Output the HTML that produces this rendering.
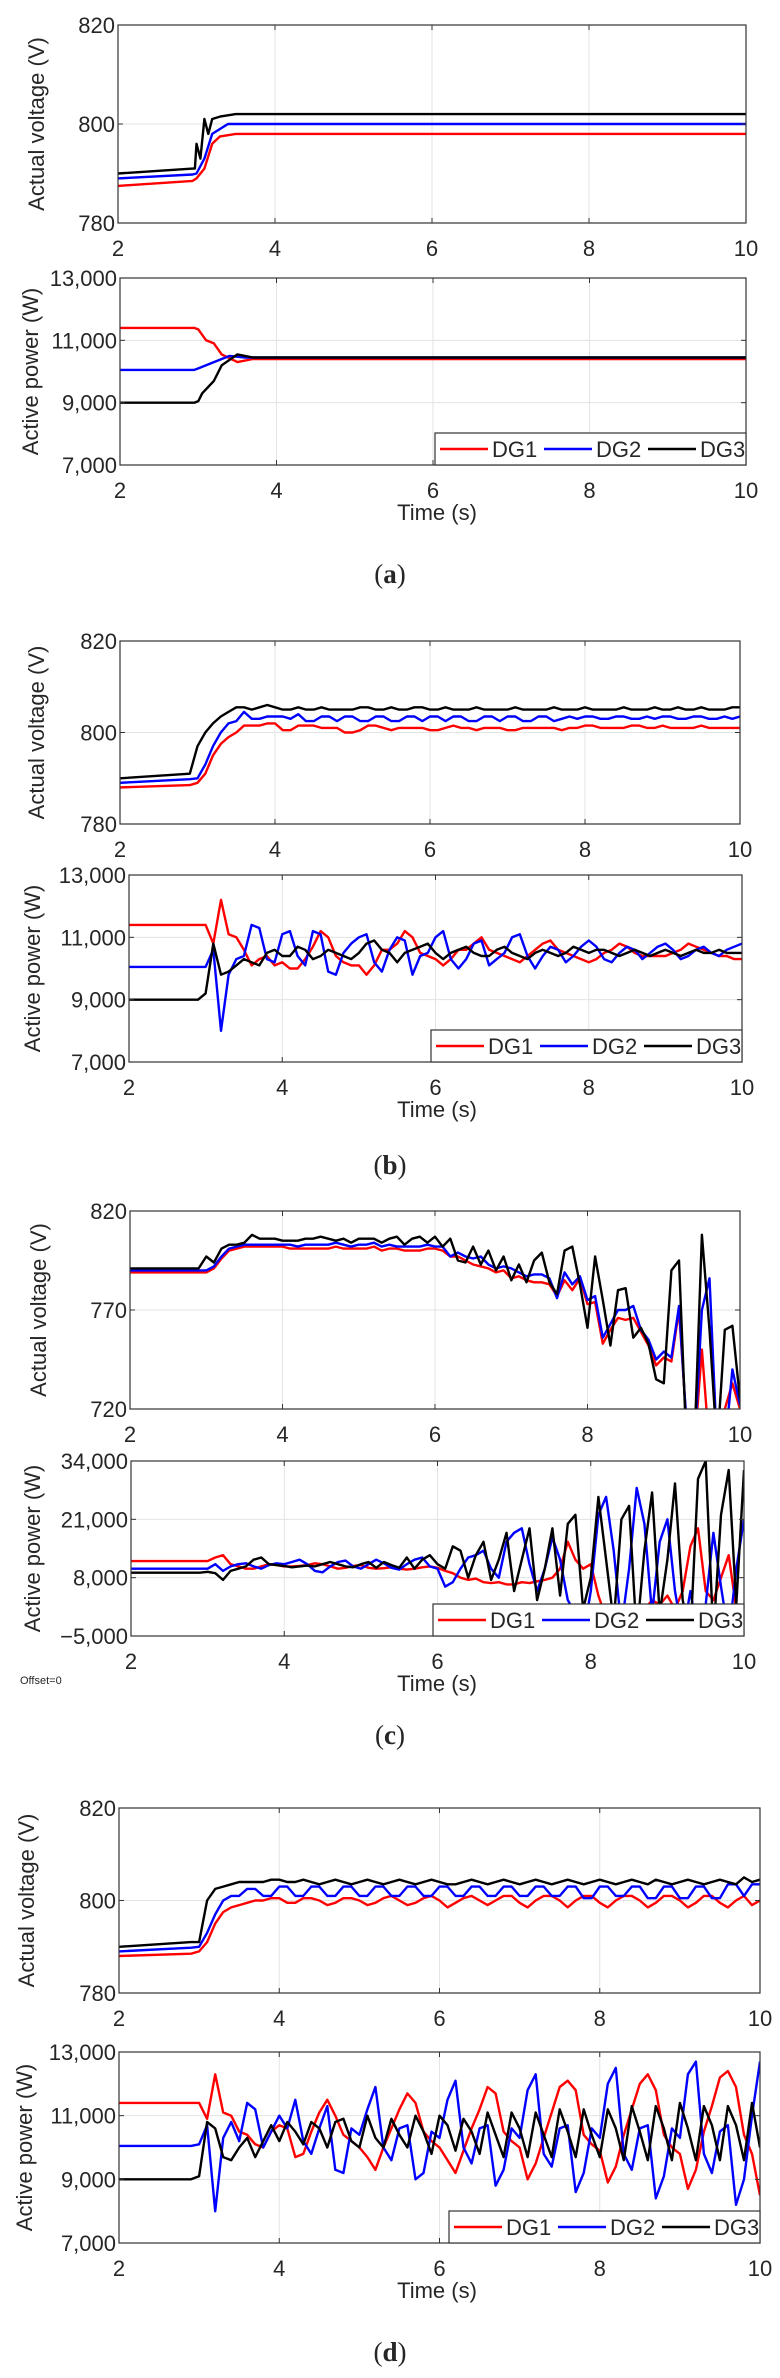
<!DOCTYPE html>
<html><head><meta charset="utf-8"><style>
html,body{margin:0;padding:0;background:#fff;}
svg{display:block;}
text{font-family:"Liberation Sans",Arial,sans-serif;fill:#262626;}
</style></head><body>
<svg id="fig" width="780" height="2378" viewBox="0 0 780 2378" xmlns="http://www.w3.org/2000/svg"></svg>
<script>
// shared time grid for oscillating series
const T = [2,2.9,
3.0,3.1,3.2,3.3,3.4,3.5,3.6,3.7,3.8,3.9,
4.0,4.1,4.2,4.3,4.4,4.5,4.6,4.7,4.8,4.9,
5.0,5.1,5.2,5.3,5.4,5.5,5.6,5.7,5.8,5.9,
6.0,6.1,6.2,6.3,6.4,6.5,6.6,6.7,6.8,6.9,
7.0,7.1,7.2,7.3,7.4,7.5,7.6,7.7,7.8,7.9,
8.0,8.1,8.2,8.3,8.4,8.5,8.6,8.7,8.8,8.9,
9.0,9.1,9.2,9.3,9.4,9.5,9.6,9.7,9.8,9.9,
10.0];
const xTicks = [2,4,6,8,10];
const xTickLabels = ["2","4","6","8","10"];
const vTicks = [780,800,820];
const vTickLabels = ["780","800","820"];
const pTicks = [7000,9000,11000,13000];
const pTickLabels = ["7,000","9,000","11,000","13,000"];
const vTicksC = [720,770,820];
const vTickLabelsC = ["720","770","820"];
const pTicksC = [-5000,8000,21000,34000];
const pTickLabelsC = ["\u22125,000","8,000","21,000","34,000"];
const seriesNames = ["DG1","DG2","DG3"];

// panel (a)
const aT1 = [2,2.95,3.0,3.1,3.2,3.3,3.5,10];
const aV1 = [787.5,788.5,789,791,796,797.5,798,798];
const aT2 = [2,2.95,3.0,3.1,3.2,3.4,10];
const aV2 = [789,789.8,790,793,798,800,800];
const aT3 = [2,2.95,2.98,3.0,3.05,3.1,3.15,3.2,3.3,3.5,10];
const aV3 = [790,791,791,796,793,801,798,801,801.5,802,802];
const aPT1 = [2,2.95,3.0,3.1,3.2,3.3,3.5,3.7,10];
const aP1 = [11400,11400,11350,11000,10900,10550,10300,10400,10400];
const aPT2 = [2,2.95,3.0,3.2,3.4,3.6,10];
const aP2 = [10050,10050,10100,10300,10500,10450,10450];
const aPT3 = [2,2.95,3.0,3.05,3.2,3.3,3.5,3.7,10];
const aP3 = [9000,9000,9050,9300,9700,10200,10550,10450,10450];

// panel (b)
const bV1 = [788,788.5,
789,791,795,797.5,799,800,801.5,801.5,801.5,802,
802,800.5,800.5,801.5,801.5,801.5,801,801,801,800,
800,800.5,801.5,801.5,801,800.5,801,801,801,801,
800.5,800.5,801,801.5,801,801,800.5,801,801,801,
800.5,800.5,801,801,801,801,801,800.5,801,801,
801.5,801.5,801,801,801,801,801.5,801.5,801,801,
801.5,801,801,801,801,801.5,801,801,801,801,
801];
const bV2 = [789,789.8,
790,793,797,800,802,802.5,804.5,803,803,803.5,
803.5,803.5,803,804,802.5,802.5,803.5,803.5,802.5,803.5,
803.5,802.5,802.5,803.5,803.5,802.5,802.5,803.5,803.5,802.5,
803.5,803.5,802.5,803.5,803.5,802.5,802.5,803.5,803.5,802.5,
803.5,803.5,802.5,802.5,803.5,803.5,802.5,803,803.5,803,
803.5,803.5,803,803,803.5,803.5,803,803,803.5,803,
803.5,803.5,803,803,803.5,803.5,803,803,803.5,803,
803.5];
const bV3 = [790,791,
797,800,802,803.5,804.5,805.5,805.5,805,805.5,806,
805.5,805,805,805.5,805,805,805.5,805,805,805,
805,805.5,805.5,805,805,805.5,805,805,805.5,805.5,
805,805,805.5,805,805,805,805.5,805,805,805,
805,805.5,805,805,805,805,805.5,805,805,805,
805.5,805,805,805,805,805.5,805,805,805,805.5,
805,805,805.5,805,805,805.5,805,805,805,805.5,
805.5];
const bP1 = [11400,11400,
11400,10800,12200,11100,11000,10600,10100,10300,10400,10100,
10200,10000,10000,10300,10700,11200,11000,10400,10200,10100,
10100,9800,10100,10600,10600,10800,11200,11000,10500,10400,
10300,10100,10300,10600,10600,10800,11000,10600,10500,10400,
10300,10200,10400,10600,10800,10900,10600,10500,10400,10300,
10200,10300,10500,10600,10800,10700,10500,10400,10400,10400,
10400,10500,10600,10800,10700,10600,10500,10400,10400,10300,
10300];
const bP2 = [10050,10050,
10050,10600,8000,9800,10300,10400,11400,11300,10300,10200,
11100,11200,10400,10100,11200,11100,9900,9800,10500,10800,
11000,11100,10200,9900,10600,11000,10900,9800,10400,10500,
11000,11200,10300,10000,10300,10800,10900,10100,10300,10500,
11000,11100,10400,10000,10400,10700,10600,10200,10400,10700,
10900,10700,10300,10200,10500,10700,10600,10300,10500,10700,
10800,10600,10300,10400,10600,10700,10500,10400,10600,10700,
10800];
const bP3 = [9000,9000,
9200,10800,9800,9900,10100,10300,10200,10100,10500,10600,
10400,10400,10700,10600,10300,10400,10600,10500,10400,10300,
10500,10800,10900,10600,10500,10200,10500,10600,10700,10800,
10500,10300,10500,10600,10700,10500,10400,10400,10600,10700,
10500,10400,10300,10500,10600,10500,10400,10500,10700,10600,
10500,10600,10600,10500,10400,10500,10600,10500,10400,10500,
10600,10500,10400,10500,10600,10500,10500,10600,10500,10500,
10500];

// panel (c)
const cV1 = [789,789,
789,791,796,800,801,802,802,802,802,802,
802,801,801,801,801,801,801,802,801,801,
801,801,802,800,801,801,800,800,800,801,
801,800,797,797,795,793,792,791,789,790,
786,787,785,784,784,783,777,785,780,786,
773,774,753,760,766,765,766,759,752,742,
746,744,770,712,700,750,700,700,720,733,
720];
const cV2 = [790,790,
790,792,797,801,802,803,803,803,803,803,
803,803,802,803,803,803,803,804,803,802,
803,803,804,802,803,802,802,802,802,803,
802,802,797,799,797,796,797,793,791,792,
791,789,787,788,788,786,776,789,783,787,
775,777,756,763,770,770,772,760,755,745,
749,746,772,712,700,770,786,700,700,740,
722];
const cV3 = [791,791,
797,794,801,803,803,804,808,806,806,806,
805,805,805,806,806,807,806,805,806,804,
806,806,806,804,806,807,803,806,807,804,
807,802,806,795,794,802,793,800,790,797,
785,793,784,795,799,784,778,800,802,783,
761,797,775,752,780,781,756,761,753,735,
733,790,795,700,700,808,760,700,760,762,
725];
const cP1 = [11700,11700,
11700,12500,13000,11000,10500,10000,10000,10500,11000,10800,
10500,10500,10600,10800,11200,11000,10500,10000,10200,10600,
10800,10200,10000,10100,10300,10000,9800,10000,10300,10500,
10200,9500,9000,8000,7500,7800,7000,6800,7000,6500,
6500,7000,6800,7200,7500,8000,10000,16000,12000,10000,
11000,4000,-1000,1000,0,-2000,0,1000,3000,2000,
4000,1000,5000,15000,19000,5000,3000,8000,13000,1000,
0];
const cP2 = [10000,10000,
10000,11000,9500,10500,11000,11200,10500,10000,10800,11200,
11000,11500,12000,11000,9500,9200,10500,11500,11800,10500,
10000,11000,12000,11200,10200,9800,11000,12000,12500,10500,
10000,6000,7000,10000,12500,13000,14000,10000,8000,16000,
18000,19000,11000,5000,10000,17000,12000,3000,0,-5000,
5000,22000,26000,14000,-3000,10000,28000,20000,0,16000,
21000,5000,-5000,5000,-5000,2000,18000,6000,-5000,10000,
21000];
const cP3 = [9100,9100,
9300,9000,7500,9500,10000,10500,12000,12500,11000,10800,
10600,10300,10500,10700,10500,11000,11500,11000,10500,10300,
11000,11500,10200,11500,10800,10200,12500,10000,12000,13000,
11000,10000,15000,14000,8000,13000,16000,7500,12000,18000,
5000,12000,19000,3000,10000,19000,4000,20000,22000,1000,
8000,26000,12000,-2000,21000,24000,-5000,14000,27000,0,
12000,29000,3000,-5000,30000,34000,-5000,22000,32000,2000,
32000];

// panel (d)
const dV1 = [788,788.5,
789,791,795,797.5,798.5,799,799.5,800,800,800.5,
800.5,799.5,799.5,800.5,800.5,800,799,799.5,800.5,800.5,
800,799,799.5,800.5,801,800,799,799.5,800.5,801,
800,798.5,799.5,800.5,801,800,799,800,801,801,
799.5,798.5,800,801,801,800,798.5,800,801,801,
799.5,798.5,800,801,801,800,798.5,799.5,801,801,
800,798.5,799.5,801,801,799.5,798.5,800,801,799,
800];
const dV2 = [789,789.8,
790,793,797,800,801,801,802.5,802.5,801,801,
803,803,801,801,803,803,801,801,803,803,
801,801,803,803,801,801,803,803,801,801,
803,803,801,801,803,803,801,801,803,803,
801,801,803,803,801,801,803,803,800.5,800.5,
803,803,801,801,803,803,800.5,800.5,803,803,
800.5,800.5,803,803,800.5,800.5,803.5,803.5,801,803.5,
803.5];
const dV3 = [790,791,
791,800,802.5,803,803.5,804,804,804,804,804.5,
804.5,804,804,804.5,804,803.5,804,804.5,804,803.5,
804,804.5,804,803.5,804,804.5,804,803.5,804,804.5,
804,803.5,803.5,804,804.5,804,803.5,804,804.5,804,
803.5,804,804.5,804,803.5,804,804.5,804,803.5,804,
804.5,804,803.5,804,804.5,804,803.5,804.5,804,803.5,
804,804.5,804,803.5,804,804.5,804,803.5,805,804,
804.5];
const dP1 = [11400,11400,
11400,10900,12300,11100,11000,10500,10400,10100,10000,10500,
10700,10600,9700,9800,10500,11100,11500,11000,10400,10200,
10000,9700,9300,10000,10600,11200,11700,11400,10500,10200,
10000,9600,9200,9900,10600,11200,11900,11700,10500,10200,
10000,9000,9500,10300,11100,11900,12100,11800,10400,10100,
9900,8900,9400,10400,11200,12000,12300,11800,10400,10000,
9800,8700,9300,10500,11300,12200,12400,11900,10400,9800,
8500];
const dP2 = [10050,10050,
10100,10700,8000,10300,10800,10200,11400,11200,10000,10500,
11000,10600,11500,10200,9800,10600,11300,9300,9200,10600,
10400,11200,11900,10000,9600,10600,10700,9000,9200,10500,
10300,11500,12100,10000,9500,10600,10700,8800,9300,10600,
10300,11800,12300,9800,9400,10600,10700,8600,9200,10600,
10300,12000,12500,9800,9300,10600,10700,8400,9100,10600,
10300,12300,12700,9800,9200,10500,10700,8200,9000,11000,
12700];
const dP3 = [9000,9000,
9100,10800,10600,9700,9600,10000,10300,9700,10200,10700,
10200,10800,10500,10100,10800,10600,10000,10800,10900,10200,
10000,11000,10300,10000,10900,10400,10000,11000,10500,9800,
11000,10700,9900,10900,10500,9800,11100,10400,9700,11100,
10600,9700,11100,10400,9700,11200,10500,9700,11200,10400,
9700,11200,10600,9600,11300,10500,9600,11300,10600,9600,
11400,10600,9600,11300,10700,9600,11300,10700,9600,11400,
10000];

const COLORS = ["#ff0000","#0000ff","#000000"];
const NS = "http://www.w3.org/2000/svg";
const svg = document.getElementById('fig');
function mk(tag, attrs, parent){
  const e = document.createElementNS(NS, tag);
  for (const k in attrs) e.setAttribute(k, attrs[k]);
  (parent||svg).appendChild(e);
  return e;
}
let clipId = 0;
function drawAxes(cfg){
  const g = mk('g', {});
  
  
  const xs = v => cfg.x0 + (v - 2) / 8 * (cfg.x1 - cfg.x0);
  const ys = v => cfg.y1 - (v - cfg.ymin) / (cfg.ymax - cfg.ymin) * (cfg.y1 - cfg.y0);
  mk('rect', {x:cfg.x0, y:cfg.y0, width:cfg.x1-cfg.x0, height:cfg.y1-cfg.y0, fill:'#fff'}, g);
  // grid
  xTicks.forEach(t => {
    if (t===2||t===10) return;
    const l = mk('line', {x1:xs(t), x2:xs(t), y1:cfg.y0, y2:cfg.y1, stroke:'#e3e3e3', 'stroke-width':1}, g);
    
    
  });
  cfg.yt.forEach(t => {
    if (t===cfg.ymin||t===cfg.ymax) return;
    const l = mk('line', {x1:cfg.x0, x2:cfg.x1, y1:ys(t), y2:ys(t), stroke:'#e3e3e3', 'stroke-width':1}, g);
    
    
  });
  // series
  const cid = 'clip' + (clipId++);
  const cp = mk('clipPath', {id:cid}, g);
  mk('rect', {x:cfg.x0, y:cfg.y0, width:cfg.x1-cfg.x0, height:cfg.y1-cfg.y0}, cp);
  const sg = mk('g', {'clip-path':'url(#'+cid+')'}, g);
  cfg.series.forEach((s, i) => {
    let d = '';
    s.t.forEach((t, j) => { d += (j ? 'L' : 'M') + xs(t).toFixed(1) + ',' + ys(s.v[j]).toFixed(1); });
    const p = mk('path', {d:d, fill:'none', stroke:COLORS[i], 'stroke-width':2.4, 'stroke-linejoin':'round'}, sg);
    
    
  });
  // box
  mk('rect', {x:cfg.x0, y:cfg.y0, width:cfg.x1-cfg.x0, height:cfg.y1-cfg.y0, fill:'none', stroke:'#333', 'stroke-width':1.2}, g);
  // ticks
  xTicks.forEach((t, i) => {
    mk('line', {x1:xs(t), x2:xs(t), y1:cfg.y1, y2:cfg.y1-5, stroke:'#333'}, g);
    mk('line', {x1:xs(t), x2:xs(t), y1:cfg.y0, y2:cfg.y0+5, stroke:'#333'}, g);
    const tx = mk('text', {x:xs(t), y:cfg.y1+33, 'font-size':22, 'text-anchor':'middle'}, g);
    tx.textContent = xTickLabels[i];
    
    
  });
  cfg.yt.forEach((t, i) => {
    mk('line', {x1:cfg.x0, x2:cfg.x0+5, y1:ys(t), y2:ys(t), stroke:'#333'}, g);
    mk('line', {x1:cfg.x1, x2:cfg.x1-5, y1:ys(t), y2:ys(t), stroke:'#333'}, g);
    const tx = mk('text', {x:cfg.x0-3, y:ys(t)+8, 'font-size':22, 'text-anchor':'end'}, g);
    tx.textContent = cfg.ytl[i];
    
    
  });
  const cy = (cfg.y0 + cfg.y1) / 2;
  const yl = mk('text', {x:cfg.ylx, y:cy, 'font-size':22, 'text-anchor':'middle', transform:'rotate(-90 '+cfg.ylx+' '+cy+')'}, g);
  yl.textContent = cfg.ylabel;
  
  
  if (cfg.legend){
    const lg = mk('g', {}, g);
    
    
    const lx = cfg.x1 - 311, ly = cfg.y1 - 32;
    mk('rect', {x:lx, y:ly, width:311, height:32, fill:'#fff', stroke:'#333', 'stroke-width':1.2}, lg);
    seriesNames.forEach((n, i) => {
      const bx = lx + 5 + i * 104;
      const le = mk('g', {}, lg);
      
      
      mk('line', {x1:bx, x2:bx+48, y1:ly+16, y2:ly+16, stroke:COLORS[i], 'stroke-width':2.6}, le);
      const tx = mk('text', {x:bx+52, y:ly+24, 'font-size':22}, le);
      tx.textContent = n;
    });
  }
  if (cfg.xlabel){
    const xl = mk('text', {x:437, y:cfg.y1+55, 'font-size':22, 'text-anchor':'middle'}, g);
    xl.textContent = 'Time (s)';
    
    
  }
}
function caption(letter, y){
  const t = mk('text', {x:390, y:y, 'font-size':27, 'text-anchor':'middle', style:'font-family:"Liberation Serif",serif'});
  
  
  t.innerHTML = '(<tspan font-weight="bold">' + letter + '</tspan>)';
}
const S = (a,b,c) => [{t:a[0],v:a[1]},{t:b[0],v:b[1]},{t:c[0],v:c[1]}];

// (a)
drawAxes({name:'panel-a-voltage', x0:118, x1:746, y0:25, y1:223, ymin:780, ymax:820, yt:vTicks, ytl:vTickLabels, ylabel:'Actual voltage (V)', ylx:44,
  series:S([aT1,aV1],[aT2,aV2],[aT3,aV3])});
drawAxes({name:'panel-a-power', x0:120, x1:746, y0:278, y1:465, ymin:7000, ymax:13000, yt:pTicks, ytl:pTickLabels, ylabel:'Active power (W)', ylx:38, legend:true, xlabel:true,
  series:S([aPT1,aP1],[aPT2,aP2],[aPT3,aP3])});
caption('a', 583);
// (b)
drawAxes({name:'panel-b-voltage', x0:120, x1:740, y0:641, y1:824, ymin:780, ymax:820, yt:vTicks, ytl:vTickLabels, ylabel:'Actual voltage (V)', ylx:44,
  series:S([T,bV1],[T,bV2],[T,bV3])});
drawAxes({name:'panel-b-power', x0:129, x1:742, y0:875, y1:1062, ymin:7000, ymax:13000, yt:pTicks, ytl:pTickLabels, ylabel:'Active power (W)', ylx:40, legend:true, xlabel:true,
  series:S([T,bP1],[T,bP2],[T,bP3])});
caption('b', 1174);
// (c)
drawAxes({name:'panel-c-voltage', x0:130, x1:740, y0:1211, y1:1409, ymin:720, ymax:820, yt:vTicksC, ytl:vTickLabelsC, ylabel:'Actual voltage (V)', ylx:46,
  series:S([T,cV1],[T,cV2],[T,cV3])});
drawAxes({name:'panel-c-power', x0:131, x1:744, y0:1461, y1:1636, ymin:-5000, ymax:34000, yt:pTicksC, ytl:pTickLabelsC, ylabel:'Active power (W)', ylx:40, legend:true, xlabel:true,
  series:S([T,cP1],[T,cP2],[T,cP3])});
const off = mk('text', {x:20, y:1684, 'font-size':11});
off.textContent = 'Offset=0';


caption('c', 1744);
// (d)
drawAxes({name:'panel-d-voltage', x0:119, x1:760, y0:1808, y1:1993, ymin:780, ymax:820, yt:vTicks, ytl:vTickLabels, ylabel:'Actual voltage (V)', ylx:34,
  series:S([T,dV1],[T,dV2],[T,dV3])});
drawAxes({name:'panel-d-power', x0:119, x1:760, y0:2052, y1:2243, ymin:7000, ymax:13000, yt:pTicks, ytl:pTickLabels, ylabel:'Active power (W)', ylx:32, legend:true, xlabel:true,
  series:S([T,dP1],[T,dP2],[T,dP3])});
caption('d', 2361);
</script>
</body></html>
